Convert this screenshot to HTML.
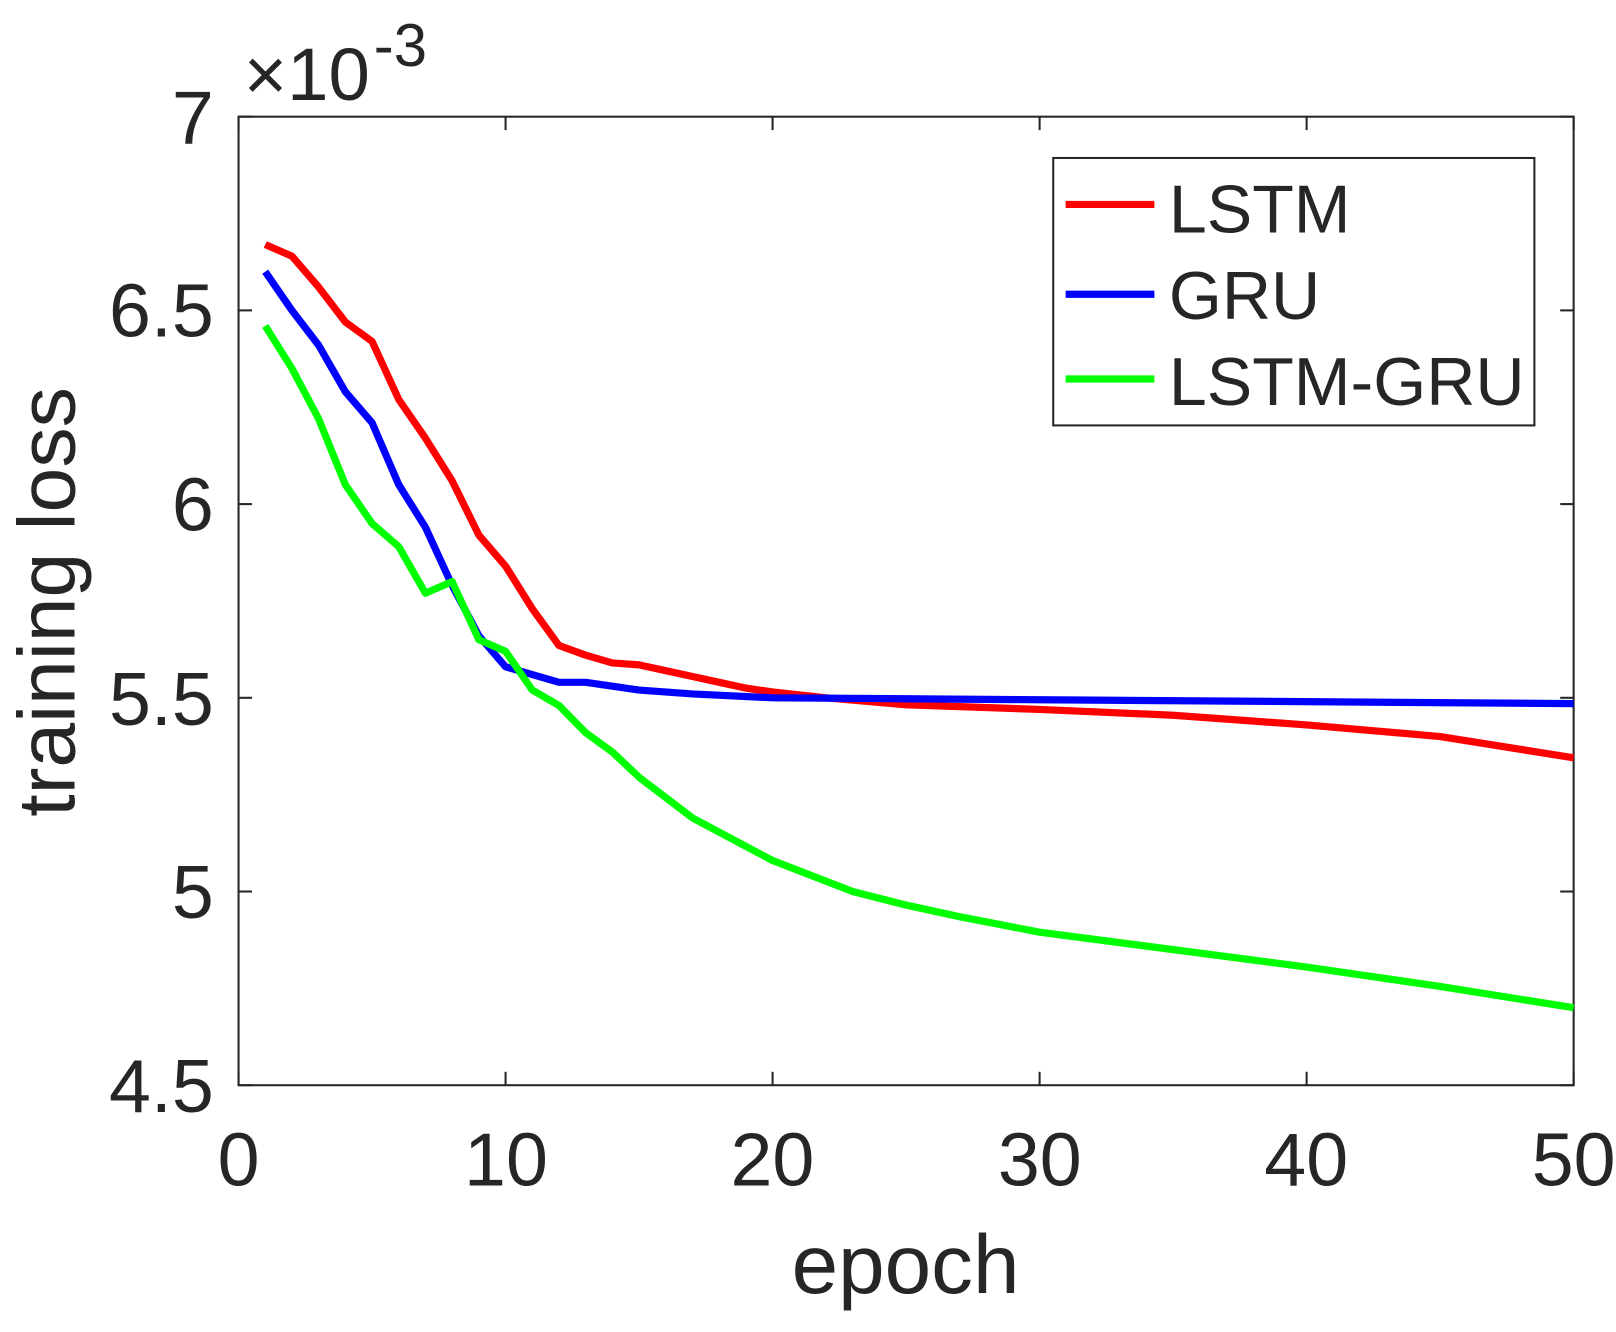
<!DOCTYPE html>
<html><head><meta charset="utf-8"><style>html,body{margin:0;padding:0;background:#fff}svg{display:block}</style></head>
<body>
<svg id="s" width="1616" height="1332" viewBox="0 0 1565 1290" xmlns="http://www.w3.org/2000/svg" font-family="Liberation Sans, Arial, sans-serif" fill="#262626">
<rect x="231" y="113" width="1293" height="938" fill="#fff" stroke="#262626" stroke-width="2"/>
<g id="ticks" stroke="#262626" stroke-width="2"></g>
<g font-size="73" text-anchor="end">
<text x="207" y="139">7</text><text x="207" y="326">6.5</text><text x="207" y="514">6</text>
<text x="207" y="702">5.5</text><text x="207" y="889">5</text><text x="207" y="1077">4.5</text>
</g>
<g font-size="73" text-anchor="middle">
<text x="231" y="1148">0</text><text x="490" y="1148">10</text><text x="748" y="1148">20</text>
<text x="1007" y="1148">30</text><text x="1265" y="1148">40</text><text x="1524" y="1148">50</text>
</g>
<text x="236" y="97" font-size="72">×10</text><text x="362" y="64" font-size="58">-3</text>
<text x="877" y="1252" font-size="81" text-anchor="middle">epoch</text>
<text transform="translate(72,583) rotate(-90)" font-size="78" text-anchor="middle">training loss</text>
<g id="lines" fill="none" stroke-width="7" stroke-linejoin="round"></g>
<rect x="1020" y="153" width="466" height="259" fill="#fff" stroke="#262626" stroke-width="2"/>
<line x1="1032" y1="198" x2="1118" y2="198" stroke="#ff0000" stroke-width="7"/>
<line x1="1032" y1="285" x2="1118" y2="285" stroke="#0000ff" stroke-width="7"/>
<line x1="1032" y1="367" x2="1118" y2="367" stroke="#00ff00" stroke-width="7"/>
<g font-size="66"><text x="1132" y="225">LSTM</text><text x="1132" y="309">GRU</text><text x="1132" y="392">LSTM-GRU</text></g>
</svg>
<script>
var X=e=>231+e*25.86, Y=v=>113+(7-v)*375.2;
var t=document.getElementById('ticks'),h='';
for(var i=0;i<=5;i++){var x=X(i*10);h+=`<line x1="${x}" y1="1051" x2="${x}" y2="1038"/><line x1="${x}" y1="113" x2="${x}" y2="126"/>`;}
for(var i=0;i<=5;i++){var y=Y(7-i*0.5);h+=`<line x1="231" y1="${y}" x2="244" y2="${y}"/><line x1="1524" y1="${y}" x2="1511" y2="${y}"/>`;}
t.innerHTML=h;
var L=[[1,6.67],[2,6.64],[3,6.56],[4,6.47],[5,6.42],[6,6.27],[7,6.17],[8,6.06],[9,5.92],[10,5.84],[11,5.73],[12,5.635],[13,5.61],[14,5.59],[15,5.585],[16,5.57],[17,5.555],[18,5.54],[19,5.525],[20,5.515],[22,5.5],[25,5.482],[30,5.47],[35,5.455],[40,5.43],[45,5.4],[50,5.345]];
var G=[[1,6.6],[2,6.5],[3,6.41],[4,6.29],[5,6.21],[6,6.05],[7,5.94],[8,5.79],[9,5.66],[10,5.58],[11,5.56],[12,5.54],[13,5.54],[14,5.53],[15,5.52],[17,5.51],[20,5.5],[30,5.495],[50,5.485]];
var C=[[1,6.46],[2,6.35],[3,6.22],[4,6.05],[5,5.95],[6,5.89],[7,5.77],[8,5.8],[9,5.65],[10,5.62],[11,5.52],[12,5.48],[13,5.41],[14,5.36],[15,5.295],[17,5.19],[20,5.08],[23,5.0],[25,4.965],[27,4.935],[30,4.895],[35,4.85],[40,4.805],[45,4.755],[50,4.7]];
function pl(d,c){return `<polyline stroke="${c}" points="${d.map(p=>X(p[0])+','+Y(p[1])).join(' ')}"/>`;}
document.getElementById('lines').innerHTML=pl(L,'#ff0000')+pl(G,'#0000ff')+pl(C,'#00ff00');
</script>
</body></html>
